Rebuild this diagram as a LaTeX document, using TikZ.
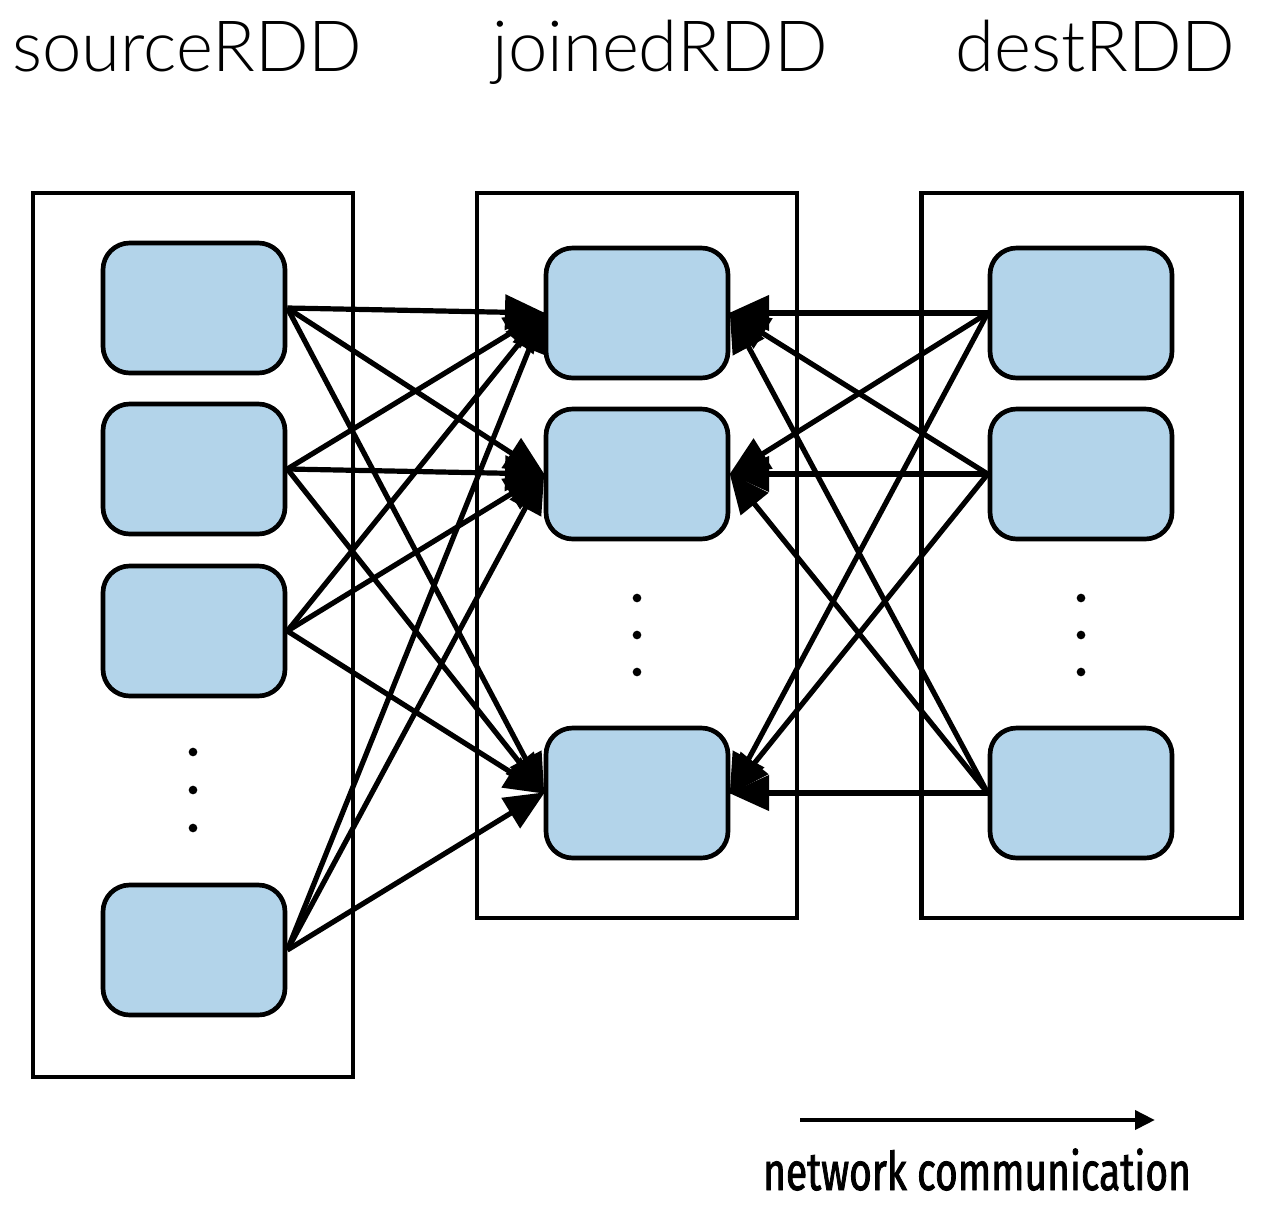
\documentclass[tikz,border=0pt]{standalone}
\usepackage{fontspec}
\usetikzlibrary{arrows.meta}
\newfontfamily\titlefont[UprightFont={* Light}]{Lato}
\newfontfamily\legfont[FakeStretch=0.73,FakeBold=1.5]{Fira Sans}
\definecolor{partblue}{RGB}{179,212,234}
\begin{document}
\begin{tikzpicture}[x=0.75pt,y=-0.75pt,
  bigbox/.style={draw=black,line width=3.5pt,minimum width=240pt,inner sep=0pt},
  part/.style={draw=black,line width=3.5pt,fill=partblue,rounded corners=20pt,
    minimum width=136.5pt,minimum height=97.5pt,inner sep=0pt},
  title/.style={font=\titlefont\fontsize{53}{58}\selectfont,anchor=base west,inner sep=0pt},
  dot/.style={circle,fill=black,inner sep=0pt,minimum size=6.5pt},
  link/.style={line width=3.9pt,-{Triangle[length=30pt,width=26pt]},shorten >=-1pt}]
\useasboundingbox (0,0) rectangle (1266,1210);
\fill[white] (0,0) rectangle (1266,1210);
% titles
\node[title] (t1) at (12,71) {sourceRDD};
\node[title] (t2) at (492,71) {joinedRDD};
\node[title] (t3) at (955,71) {destRDD};
% big boxes
\node[bigbox,minimum height=663pt] (B1) at (193,635) {};
\node[bigbox,minimum height=543.75pt] (B2) at (637,555.5) {};
\node[bigbox,minimum height=543.75pt] (B3) at (1081.5,555.5) {};
% partitions
\node[part] (s1) at (194,308) {};
\node[part] (s2) at (194,469) {};
\node[part] (s3) at (194,631) {};
\node[part] (s4) at (194,950) {};
\node[part] (m1) at (637,313) {};
\node[part] (m2) at (637,474) {};
\node[part] (m3) at (637,793) {};
\node[part] (d1) at (1081,313) {};
\node[part] (d2) at (1081,474) {};
\node[part] (d3) at (1081,793) {};
% dots
\node[dot] (ls1) at (193,752) {};
\node[dot] (ls2) at (193,790) {};
\node[dot] (ls3) at (193,828) {};
\node[dot] (ms1) at (637,598) {};
\node[dot] (ms2) at (637,635) {};
\node[dot] (ms3) at (637,672) {};
\node[dot] (rs1) at (1081,598) {};
\node[dot] (rs2) at (1081,635) {};
\node[dot] (rs3) at (1081,672) {};
% links
\foreach \s in {s1,s2,s3,s4}
  \foreach \m in {m1,m2,m3}
    \draw[link] (\s.east) -- (\m.west);
\foreach \d in {d1,d2,d3}
  \foreach \m in {m1,m2,m3}
    \draw[link] (\d.west) -- (\m.east);
% legend
\coordinate (la) at (800,1120);
\coordinate (lb) at (1155,1120);
\draw[line width=3.5pt,-{Triangle[length=15pt,width=14pt]}] (la) -- (lb);
\node[font=\legfont\fontsize{40}{44}\selectfont,anchor=base,inner sep=0pt] (leg) at (977,1190) {network communication};
\end{tikzpicture}
\end{document}
